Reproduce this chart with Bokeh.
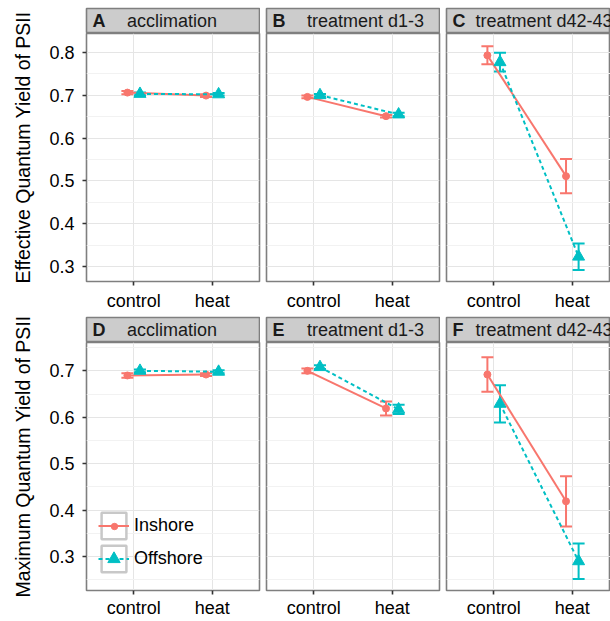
from bokeh.plotting import figure
from bokeh.models import (ColumnDataSource, FixedTicker, Whisker, TeeHead, Label,
                          Legend, LegendItem, Range1d, Spacer, PrintfTickFormatter)
from bokeh.layouts import row, column
from bokeh.embed import file_html
from bokeh.resources import INLINE

# ---------------- data ----------------
conditions = ["control", "heat"]
sites = ["Inshore", "Offshore"]
panel_letters = [["A", "B", "C"], ["D", "E", "F"]]
panel_titles = ["acclimation", "treatment d1-3", "treatment d42-43"]
y_titles = ["Effective Quantum Yield of PSII", "Maximum Quantum Yield of PSII"]

# Effective quantum yield (top row), per panel [control, heat]
eff_inshore_mean = [[0.706, 0.699], [0.696, 0.651], [0.793, 0.511]]
eff_inshore_err = [[0.004, 0.003], [0.003, 0.003], [0.021, 0.040]]
eff_offshore_mean = [[0.703, 0.702], [0.700, 0.655], [0.777, 0.323]]
eff_offshore_err = [[0.003, 0.003], [0.003, 0.004], [0.022, 0.031]]

# Maximum quantum yield (bottom row), per panel [control, heat]
max_inshore_mean = [[0.690, 0.692], [0.700, 0.619], [0.692, 0.419]]
max_inshore_err = [[0.005, 0.003], [0.005, 0.015], [0.037, 0.054]]
max_offshore_mean = [[0.700, 0.698], [0.708, 0.617], [0.629, 0.290]]
max_offshore_err = [[0.003, 0.003], [0.004, 0.010], [0.040, 0.038]]

# tick labels
y_ticks_top = [0.3, 0.4, 0.5, 0.6, 0.7, 0.8]
y_minor_top = [0.35, 0.45, 0.55, 0.65, 0.75]
y_ticks_bottom = [0.3, 0.4, 0.5, 0.6, 0.7]
y_minor_bottom = [0.25, 0.35, 0.45, 0.55, 0.65, 0.75]

# ---------------- style ----------------
FONT = "Liberation Sans"
TXT = "18px"
IN_COL = "#F8766D"
OFF_COL = "#00BFC4"
BORDER = "#7f7f7f"
STRIP_FILL = "#cccccc"
DODGE = 0.08
Y_RANGES = [(0.265, 0.844), (0.227, 0.761)]
PANEL_H = [283, 279]
XLABEL_STANDOFF = [5, 3]
FRAME_W = 173
FRAME_H = 248
TITLE_W = 40
KEY_W, KEY_H = 31, 33
LEG_X, LEG_Y = 12, 15
DOT_AREA = 16

xpos = [i + 1 for i in range(len(conditions))]


def make_panel(ri, ci, in_mean, in_err, off_mean, off_err, yticks, yminor):
    left = 86 - TITLE_W if ci == 0 else 4
    right = 3 if ci < 2 else 0
    fw = FRAME_W if ci < 2 else 164
    x_end = 0.4 + 2.2 * fw / FRAME_W
    height = PANEL_H[ri]
    bottom = height - FRAME_H
    p = figure(width=left + fw + right, height=height,
               x_range=Range1d(0.4, x_end), y_range=Range1d(*Y_RANGES[ri]),
               output_backend="svg", toolbar_location=None,
               y_axis_location="left" if ci == 0 else None,
               min_border_left=left, min_border_right=right,
               min_border_top=0, min_border_bottom=bottom)
    p.background_fill_color = "white"
    p.border_fill_color = "white"
    p.outline_line_color = BORDER
    p.outline_line_width = 1.6

    yt = FixedTicker(ticks=yticks, minor_ticks=yminor)
    xt = FixedTicker(ticks=xpos)
    p.ygrid.ticker = yt
    p.xgrid.ticker = xt
    p.grid.grid_line_color = "#e5e5e5"
    p.grid.grid_line_width = 1
    p.ygrid.minor_grid_line_color = "#f2f2f2"
    p.ygrid.minor_grid_line_width = 1

    axes = list(p.xaxis) + (list(p.yaxis) if ci == 0 else [])
    for ax in axes:
        ax.axis_line_color = None
        ax.major_tick_line_color = "#333333"
        ax.major_tick_line_width = 1.6
        ax.major_tick_in = 0
        ax.major_tick_out = 4
        ax.minor_tick_line_color = None
        ax.major_label_text_font = FONT
        ax.major_label_text_font_size = TXT
        ax.major_label_text_color = "black"
    p.xaxis.ticker = xt
    p.xaxis.major_label_overrides = {x: c for x, c in zip(xpos, conditions)}
    p.xaxis.major_label_standoff = XLABEL_STANDOFF[ri]
    if ci == 0:
        p.yaxis.ticker = yt
        p.yaxis.formatter = PrintfTickFormatter(format="%.1f")
        p.yaxis.major_label_standoff = 8

    rends = {}
    for site, means, errs, color, marker, size, dash, off in [
        (sites[0], in_mean, in_err, IN_COL, "circle", 7, "solid", -DODGE),
        (sites[1], off_mean, off_err, OFF_COL, "triangle", 12, "4 3", DODGE),
    ]:
        src = ColumnDataSource(dict(
            x=[v + off for v in xpos], y=means,
            upper=[m + e for m, e in zip(means, errs)],
            lower=[m - e for m, e in zip(means, errs)]))
        p.add_layout(Whisker(source=src, base="x", upper="upper", lower="lower",
                             dimension="height", line_color=color, line_width=2,
                             upper_head=TeeHead(size=12, line_color=color, line_width=2),
                             lower_head=TeeHead(size=12, line_color=color, line_width=2)))
        ln = p.line("x", "y", source=src, line_color=color, line_width=2, line_dash=dash)
        pt = p.scatter("x", "y", source=src, marker=marker, size=size,
                       fill_color=color, line_color=color)
        rends[site] = (ln, pt)

    if ri == 1 and ci == 0:
        nan = float("nan")
        key = p.quad(left=[nan], right=[nan], top=[nan], bottom=[nan],
                     fill_color="white", line_color="#c8c8c8", line_width=2.5)
        items = [LegendItem(label=sites[0], renderers=[key, rends[sites[0]][0]]),
                 LegendItem(label=sites[1], renderers=[key, *rends[sites[1]]])]
        legend = Legend(items=items, location=(LEG_X, LEG_Y), padding=0, margin=0,
                        spacing=0, glyph_width=KEY_W, glyph_height=KEY_H, label_height=KEY_H,
                        label_standoff=5, border_line_color=None,
                        background_fill_alpha=0, label_text_font=FONT,
                        label_text_font_size=TXT, label_text_color="black")
        p.add_layout(legend)
        # small circle key drawn on top of the Inshore key (smaller glyph area)
        dot_legend = Legend(items=[LegendItem(label=" ", renderers=[rends[sites[0]][1]])],
                            location=(LEG_X + KEY_W / 2 - DOT_AREA / 2,
                                      LEG_Y + KEY_H + KEY_H / 2 - DOT_AREA / 2),
                            padding=0, margin=0, spacing=0, glyph_width=DOT_AREA,
                            glyph_height=DOT_AREA, label_height=DOT_AREA, label_width=1,
                            label_standoff=0, border_line_color=None,
                            background_fill_alpha=0, label_text_font_size="1px")
        p.add_layout(dot_legend)
    return p


def make_strip(letter, title, ci):
    w = 175 if ci < 2 else 165
    s = figure(width=w, height=26, x_range=Range1d(0, 1), y_range=Range1d(0, 1),
               toolbar_location=None, output_backend="svg",
               x_axis_location=None, y_axis_location=None,
               min_border_left=1, min_border_right=1 if ci < 2 else 0,
               min_border_top=1, min_border_bottom=0)
    s.grid.grid_line_color = None
    s.background_fill_color = STRIP_FILL
    s.border_fill_color = "white"
    s.outline_line_color = BORDER
    s.outline_line_width = 1.6
    s.add_layout(Label(x=6, y=12.5, x_units="screen", y_units="screen", text=letter,
                       text_font=FONT, text_font_style="bold", text_font_size=TXT,
                       text_baseline="middle", text_color="#1a1a1a"))
    s.add_layout(Label(x=40.5 if ci < 2 else 29, y=12.5, x_units="screen", y_units="screen",
                       text=title, text_font=FONT, text_font_size=TXT,
                       text_baseline="middle", text_color="#1a1a1a"))
    return s


def make_ytitle(ri, height):
    t = figure(width=TITLE_W, height=height, x_range=Range1d(0, 1), y_range=Range1d(0, 1),
               toolbar_location=None, output_backend="svg",
               x_axis_location=None, y_axis_location=None, min_border=0)
    t.grid.grid_line_color = None
    t.outline_line_color = None
    t.background_fill_color = "white"
    t.border_fill_color = "white"
    t.add_layout(Label(x=22, y=(height - 26 - FRAME_H) + 134, x_units="screen", y_units="screen",
                       text=y_titles[ri], angle=90, angle_units="deg",
                       text_align="center", text_baseline="middle",
                       text_font=FONT, text_font_size="19.5px", text_color="black"))
    return t


eff = (eff_inshore_mean, eff_inshore_err, eff_offshore_mean, eff_offshore_err)
mx = (max_inshore_mean, max_inshore_err, max_offshore_mean, max_offshore_err)
rows = [Spacer(width=610, height=7)]
for ri, (dat, yt, ym) in enumerate([(eff, y_ticks_top, y_minor_top),
                                     (mx, y_ticks_bottom, y_minor_bottom)]):
    strips = [make_strip(panel_letters[ri][ci], panel_titles[ci], ci) for ci in range(3)]
    strip_row = row(Spacer(width=86 - TITLE_W - 1, height=26), strips[0],
                    Spacer(width=5, height=26), strips[1],
                    Spacer(width=5, height=26), strips[2])
    panels = [make_panel(ri, ci, dat[0][ci], dat[1][ci], dat[2][ci], dat[3][ci], yt, ym)
              for ci in range(3)]
    panel_row = row(*panels)
    h = 26 + panels[0].height
    rows.append(row(make_ytitle(ri, h), column(strip_row, panel_row)))

layout = column(*rows)
open("out.html", "w").write(file_html(layout, INLINE))
